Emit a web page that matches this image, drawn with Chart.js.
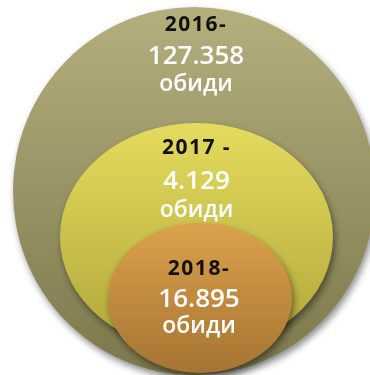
<!DOCTYPE html>
<html><head><meta charset="utf-8">
<script src="https://cdn.jsdelivr.net/npm/chart.js@4.4.0/dist/chart.umd.min.js"></script>
<style>html,body{margin:0;padding:0;background:#fff;}#wrap{width:370px;height:375px;}</style>
</head><body><div id="wrap"><canvas id="c" width="370" height="375"></canvas></div>
<script>
// ---- data ----
const categories = ['2016', '2017', '2018'];
const yearLabels = ['2016-', '2017 -', '2018-'];
const values = [127358, 4129, 16895];
const valueLabels = ['127.358', '4.129', '16.895'];
const unitLabel = 'обиди';
// bubble geometry (illustrative, in axis units)
const bubbleX = [194, 196.5, 200];
const bubbleY = [191, 237, 298];
const bubbleRx = [181, 136.5, 92];
const bubbleRy = [184, 114, 75];

// ---- styles ----
const gradTop = ['#b5af7e', '#e4db5e', '#dca24c'];
const gradBottom = ['#7c784c', '#b0a63a', '#a57433'];
const labelDy = [[-166, -134, -107], [-89, -55, -27], [-29, 2, 28]];
const labelDx = [2, 0, -1];

const ellipsePlugin = {
  id: 'ellipse',
  beforeDatasetDraw(chart, args) {
    const i = args.index;
    const el = args.meta.data[0];
    const ctx = chart.ctx;
    const r = el.options.radius;
    const g = ctx.createLinearGradient(0, el.y - r, 0, el.y + r);
    g.addColorStop(0, gradTop[i]);
    g.addColorStop(1, gradBottom[i]);
    el.options.backgroundColor = g;
    ctx.save();
    ctx.translate(el.x, el.y);
    ctx.scale(1, bubbleRy[i] / bubbleRx[i]);
    ctx.translate(-el.x, -el.y);
    ctx.shadowColor = 'rgba(0,0,0,0.45)';
    ctx.shadowBlur = 7;
    ctx.shadowOffsetX = 2;
    ctx.shadowOffsetY = 4;
  },
  afterDatasetDraw(chart) { chart.ctx.restore(); },
  afterDatasetsDraw(chart) {
    const ctx = chart.ctx;
    ctx.save();
    ctx.textAlign = 'center';
    ctx.textBaseline = 'middle';
    chart.data.datasets.forEach((ds, i) => {
      const el = chart.getDatasetMeta(i).data[0];
      const x = el.x + labelDx[i];
      ctx.fillStyle = '#111';
      ctx.font = 'bold 21px "Open Sans"';
      if ('letterSpacing' in ctx) ctx.letterSpacing = '1.5px';
      ctx.fillText(yearLabels[i], x, el.y + labelDy[i][0]);
      if ('letterSpacing' in ctx) ctx.letterSpacing = '0px';
      ctx.fillStyle = '#ffffff';
      ctx.font = '600 26px "Open Sans"';
      ctx.fillText(valueLabels[i], x, el.y + labelDy[i][1]);
      ctx.font = '600 23px "Open Sans"';
      ctx.fillText(unitLabel, x, el.y + labelDy[i][2]);
    });
    ctx.restore();
  }
};

const datasets = categories.map((c, i) => ({
  label: c,
  data: [{ x: bubbleX[i], y: bubbleY[i], r: bubbleRx[i], v: values[i] }],
  backgroundColor: gradTop[i],
  borderWidth: 0,
  order: categories.length - i,
  clip: false
}));

new Chart(document.getElementById('c'), {
  type: 'bubble',
  data: { datasets },
  options: {
    responsive: false,
    animation: false,
    events: [],
    layout: { padding: 0, autoPadding: false },
    plugins: { legend: { display: false }, tooltip: { enabled: false } },
    scales: {
      x: { type: 'linear', min: 0, max: 370, display: false },
      y: { type: 'linear', min: 0, max: 375, reverse: true, display: false }
    }
  },
  plugins: [ellipsePlugin]
});
</script></body></html>
